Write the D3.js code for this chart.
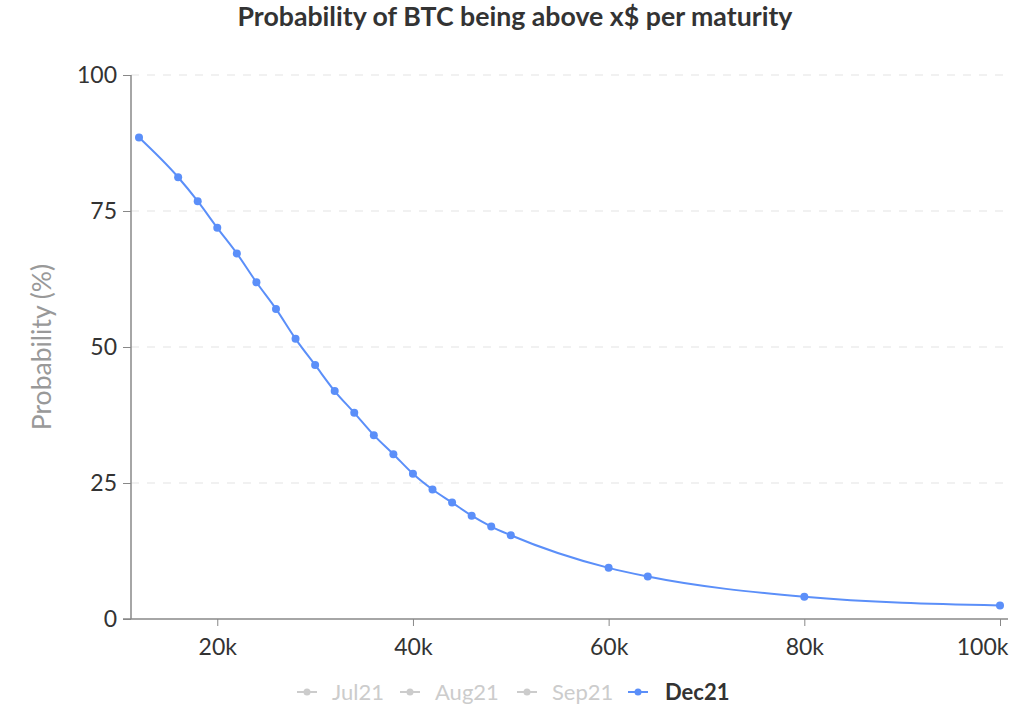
<!DOCTYPE html>
<html><head><meta charset="utf-8">
<script src="https://cdn.jsdelivr.net/npm/d3@7/dist/d3.min.js"></script>
<style>body{margin:0;background:#fff;}svg{display:block;font-family:Lato,"Noto Sans",sans-serif;}</style>
</head><body><svg id="c" width="1024" height="708"></svg>
<script>
const strikes = [12,16,18,20,22,24,26,28,30,32,34,36,38,40,42,44,46,48,50,60,64,80,100];
const dec21 = [88.5,81.2,76.8,71.9,67.2,61.9,57.0,51.5,46.7,41.9,37.9,33.8,30.3,26.7,23.8,21.4,19.0,17.0,15.4,9.4,7.8,4.1,2.5];
const xTicks = [20,40,60,80,100];
const yTicks = [0,25,50,75,100];
const seriesNames = ["Jul21","Aug21","Sep21","Dec21"];
const activeSeries = ["Dec21"];
const title = "Probability of BTC being above x$ per maturity";
const yTitle = "Probability (%)";

(function(){
const svg = d3.select("#c");
const pl = 131, pr = 1008, pt = 75, pb = 619;
const x = d3.scaleLinear().domain(d3.extent(strikes)).range([139, 1000]);
const y = d3.scaleLinear().domain([0,100]).range([pb, pt]);
const blue = "#5b8ff9";

svg.append("text").attr("x",515).attr("y",26).attr("text-anchor","middle")
  .attr("font-size",26.7).attr("font-weight","bold").attr("fill","#333").text(title);

// grid
svg.append("g").selectAll("line").data(yTicks.filter(d=>d>0)).join("line")
  .attr("x1",pl).attr("x2",pr).attr("y1",d=>y(d)).attr("y2",d=>y(d))
  .attr("stroke","#e3e3e3").attr("stroke-dasharray","8,8").attr("stroke-width",1);

// y axis
const ya = svg.append("g").attr("transform",`translate(${pl},0)`)
  .call(d3.axisLeft(y).tickValues(yTicks).tickSize(8).tickPadding(6));
ya.select(".domain").attr("stroke","#888").attr("stroke-width",1.5).attr("d",`M0,${pt}V${pb}`);
ya.selectAll(".tick line").attr("stroke","#888");
ya.selectAll(".tick text").attr("font-size",23).attr("fill","#333").attr("font-family","Lato");

// x axis
const xa = svg.append("g").attr("transform",`translate(0,${pb})`)
  .call(d3.axisBottom(x).tickValues(xTicks).tickFormat(d=>d+"k").tickSize(7).tickPadding(13));
xa.select(".domain").attr("stroke","#888").attr("stroke-width",1.5).attr("d",`M${pl-8},0H${pr}`);
xa.selectAll(".tick line").attr("stroke","#888");
xa.selectAll(".tick text").attr("font-size",23).attr("fill","#333").attr("font-family","Lato");
xa.selectAll(".tick").filter(d=>d===100).select("text").attr("text-anchor","end").attr("x",8);

svg.append("text").attr("transform","translate(51,347) rotate(-90)").attr("text-anchor","middle")
  .attr("font-size",26.5).attr("fill","#999").text(yTitle);

const data = strikes.map((s,i)=>({s, v:dec21[i]}));
svg.append("path").datum(data)
  .attr("d", d3.line().x(d=>x(d.s)).y(d=>y(d.v)).curve(d3.curveMonotoneX))
  .attr("fill","none").attr("stroke",blue).attr("stroke-width",2);
svg.append("g").selectAll("circle").data(data).join("circle")
  .attr("cx",d=>x(d.s)).attr("cy",d=>y(d.v)).attr("r",4).attr("fill",blue);

// legend
const legX = [297, 400, 517, 628];
const lg = svg.append("g");
seriesNames.forEach((n,i)=>{
  const on = activeSeries.includes(n);
  const c = on ? blue : "#ccc";
  const g = lg.append("g").attr("transform",`translate(${legX[i]},692)`);
  g.append("line").attr("x1",0).attr("x2",20).attr("stroke",c).attr("stroke-width",2);
  g.append("circle").attr("cx",10).attr("r",3.5).attr("fill",c);
  g.append("text").attr("x",on?37:35).attr("y",8).attr("font-size",22)
    .attr("font-weight",on?"bold":"normal").attr("fill",on?"#333":"#ccc").text(n);
});
})();
</script></body></html>
